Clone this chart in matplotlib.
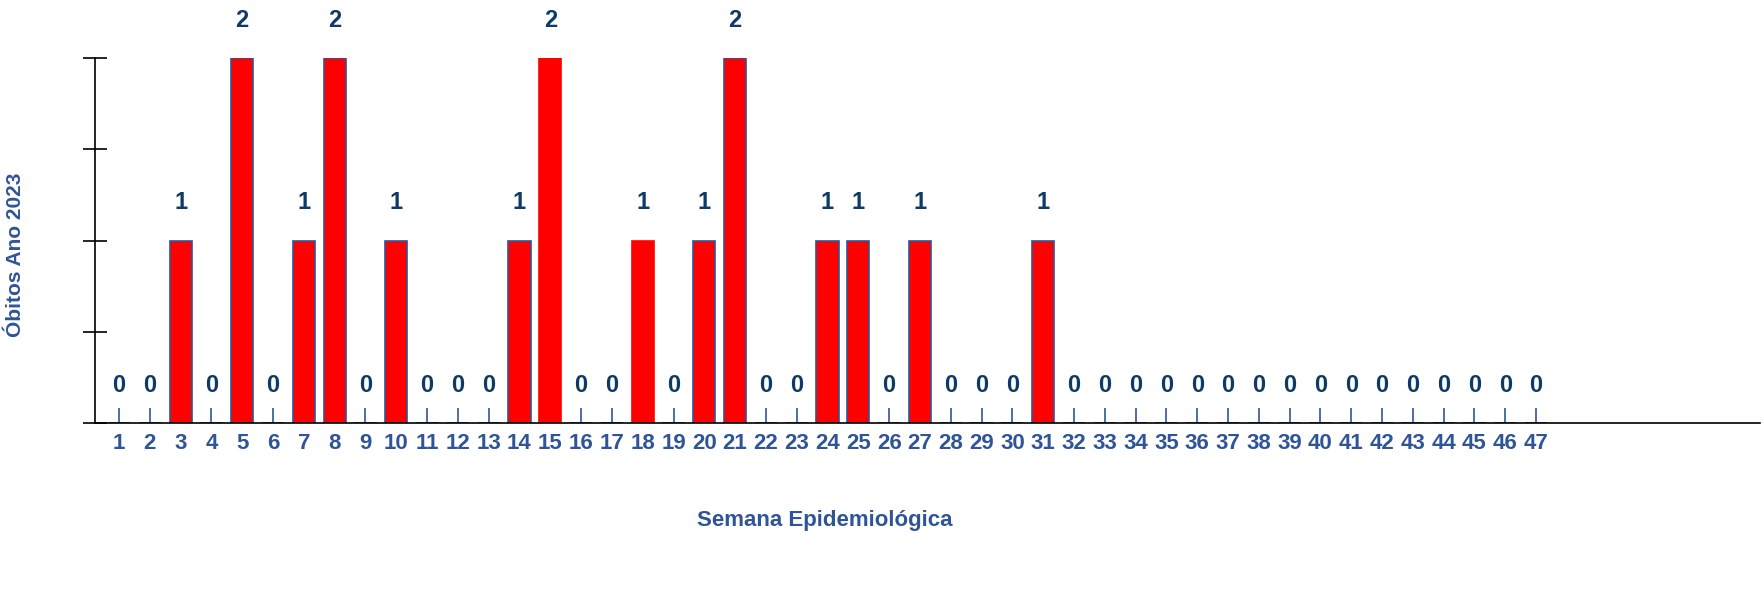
import matplotlib
matplotlib.use("Agg")
import matplotlib.pyplot as plt

# Semanas epidemiológicas e óbitos
semanas = list(range(1, 48))
obitos = [0, 0, 1, 0, 2, 0, 1, 2, 0, 1,
          0, 0, 0, 1, 2, 0, 0, 1, 0, 1,
          2, 0, 0, 1, 1, 0, 1, 0, 0, 0,
          1, 0, 0, 0, 0, 0, 0, 0, 0, 0,
          0, 0, 0, 0, 0, 0, 0]
sem_borda = [15, 18]

azul = "#2F5597"
azul_escuro = "#0D3A66"

fig = plt.figure(figsize=(17.65, 5.9), dpi=100)
ax = fig.add_axes([95 / 1765, 167 / 590, (1760 - 95) / 1765, (423 - 58) / 590])

bordas = ["#FF0000" if s in sem_borda else azul for s in semanas]
ax.bar(semanas, obitos, width=0.72, color="#FF0000", edgecolor=bordas,
       linewidth=1.2, zorder=2)

for s, v in zip(semanas, obitos):
    ax.annotate(str(v), (s, v), xytext=(0, 19), textcoords="offset points",
                ha="center", va="bottom", fontsize=17, fontweight="bold",
                color=azul_escuro, family="Liberation Sans")

ax.set_xlim(0.22, 54.27)
ax.set_ylim(0, 2)
ax.set_xticks(semanas)
ax.set_xticklabels([str(s) for s in semanas], fontsize=16, fontweight="bold",
                   color=azul, family="Liberation Sans")
ax.tick_params(axis="x", direction="in", length=11, width=1.2, color=azul, pad=7)
ax.set_yticks([0, 0.5, 1, 1.5, 2])
ax.set_yticklabels([])
ax.tick_params(axis="y", direction="inout", length=17, width=1.2, color="black")

for side in ["top", "right"]:
    ax.spines[side].set_visible(False)
ax.spines["left"].set_color("black")
ax.spines["bottom"].set_color("black")
ax.spines["left"].set_linewidth(1.2)
ax.spines["bottom"].set_linewidth(1.2)

ax.set_ylabel("Óbitos Ano 2023", fontsize=15, fontweight="bold", color=azul,
              family="Liberation Sans")
ax.yaxis.set_label_coords(-(95 - 25) / (1760 - 95), (423 - 255) / (423 - 58))
ax.set_xlabel("Semana Epidemiológica", fontsize=16, fontweight="bold", color=azul,
              family="Liberation Sans")
ax.xaxis.set_label_coords((825 - 95) / (1760 - 95), -(510 - 423) / (423 - 58))

fig.savefig("out.png", dpi=100)
